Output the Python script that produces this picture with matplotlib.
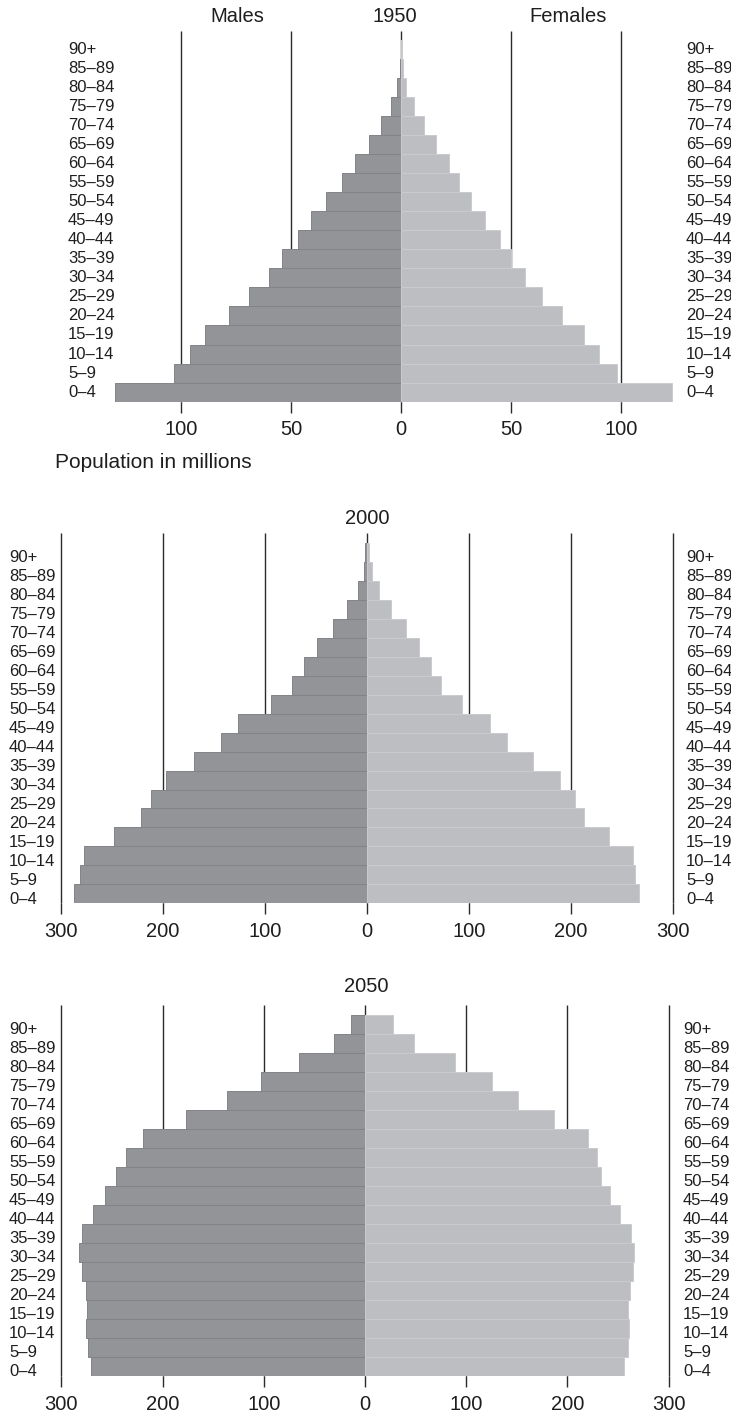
import numpy as np
import matplotlib.pyplot as plt

plt.rcParams['font.family'] = ['Liberation Sans', 'DejaVu Sans']

# age groups, youngest first
ages = ["0–4", "5–9", "10–14", "15–19", "20–24", "25–29", "30–34", "35–39",
        "40–44", "45–49", "50–54", "55–59", "60–64", "65–69", "70–74",
        "75–79", "80–84", "85–89", "90+"]

# population in millions
males_1950 = [130, 103, 96, 89, 78, 69, 60, 54, 47, 41, 34, 27, 21, 14.5, 9, 4.5, 1.9, 0.6, 0.2]
females_1950 = [123, 98, 90, 83, 73, 64, 56.5, 50, 45, 38, 32, 26.5, 22, 16, 10.5, 5.8, 2.3, 0.9, 0.4]

males_2000 = [287, 281, 277, 248, 222, 212, 197, 170, 143, 126, 94, 74, 62, 49, 33, 20, 9, 3, 1.5]
females_2000 = [267, 263, 261, 237, 213, 204, 189, 163, 137, 121, 93, 73, 63, 51, 38, 24, 12, 5, 1.8]

males_2050 = [271, 274, 276, 275, 276, 280, 283, 280, 269, 257, 246, 236, 219, 177, 136, 103, 65, 31, 14]
females_2050 = [256, 260, 261, 260, 262, 265, 266, 263, 252, 242, 233, 229, 220, 187, 151, 125, 89, 48, 28]

ticks_1950 = [-100, -50, 0, 50, 100]
ticks_big = [-300, -200, -100, 0, 100, 200, 300]

W, H = 731, 1415
fig = plt.figure(figsize=(W / 100, H / 100), dpi=100)

male_col = "#939498"
female_col = "#bdbec2"
line_col = "#2b2b2b"
text_col = "#1e1e1e"


def draw_panel(males, females, ticks, zero_px, scale, top_px, bot_px,
               left_lab_px, right_lab_px, line_over, lab_shift):
    left_px, right_px = 40, 700
    ax = fig.add_axes([left_px / W, 1 - bot_px / H,
                       (right_px - left_px) / W, (bot_px - top_px) / H])
    ax.set_xlim((left_px - zero_px) / scale, (right_px - zero_px) / scale)
    ax.set_ylim(-0.5, len(ages) - 0.5)
    y = np.arange(len(ages))

    # grid lines behind the bars, poking out above the top bar
    ax.vlines(ticks, -0.5, len(ages) - 0.5 + line_over, color=line_col,
              lw=1.0, zorder=1, clip_on=False)
    ax.barh(y, [-m for m in males], height=1.0, color=male_col,
            edgecolor="#828387", linewidth=0.7, zorder=2)
    ax.barh(y, females, height=1.0, color=female_col,
            edgecolor="#cacbce", linewidth=0.7, zorder=2)

    ax.set_xticks(ticks, [str(abs(t)) for t in ticks])
    ax.tick_params(axis="x", length=7.9, width=1.0, color=line_col,
                   labelsize=14.5, labelcolor=text_col, pad=5.5)
    ax.set_yticks([])
    for s in ax.spines.values():
        s.set_visible(False)
    ax.patch.set_alpha(0)

    for i, lab in enumerate(ages):
        yy = i - lab_shift
        ax.text((left_lab_px - zero_px) / scale, yy, lab, ha="left",
                va="center", fontsize=12, color=text_col, clip_on=False)
        ax.text((right_lab_px - zero_px) / scale, yy, lab, ha="left",
                va="center", fontsize=12, color=text_col, clip_on=False)
    return ax


draw_panel(males_1950, females_1950, ticks_1950, 401, 2.2, 39.6, 401.7,
           68, 686, 0.45, 0.0)
draw_panel(males_2000, females_2000, ticks_big, 367, 1.02, 543, 903.3,
           9, 686, 0.53, 0.28)
draw_panel(males_2050, females_2050, ticks_big, 365, 1.012, 1015, 1376,
           9, 683, 0.53, 0.28)


def ftext(xp, yp, s, size, ha="center"):
    fig.text(xp / W, 1 - yp / H, s, ha=ha, va="center", fontsize=size,
             color=text_col)


ftext(395, 17, "1950", 14.5)
ftext(237, 17, "Males", 14.5)
ftext(568, 17, "Females", 14.5)
ftext(55, 462, "Population in millions", 15, ha="left")
ftext(367, 518, "2000", 14.5)
ftext(366, 987, "2050", 14.5)

fig.savefig("out.png", dpi=100)
